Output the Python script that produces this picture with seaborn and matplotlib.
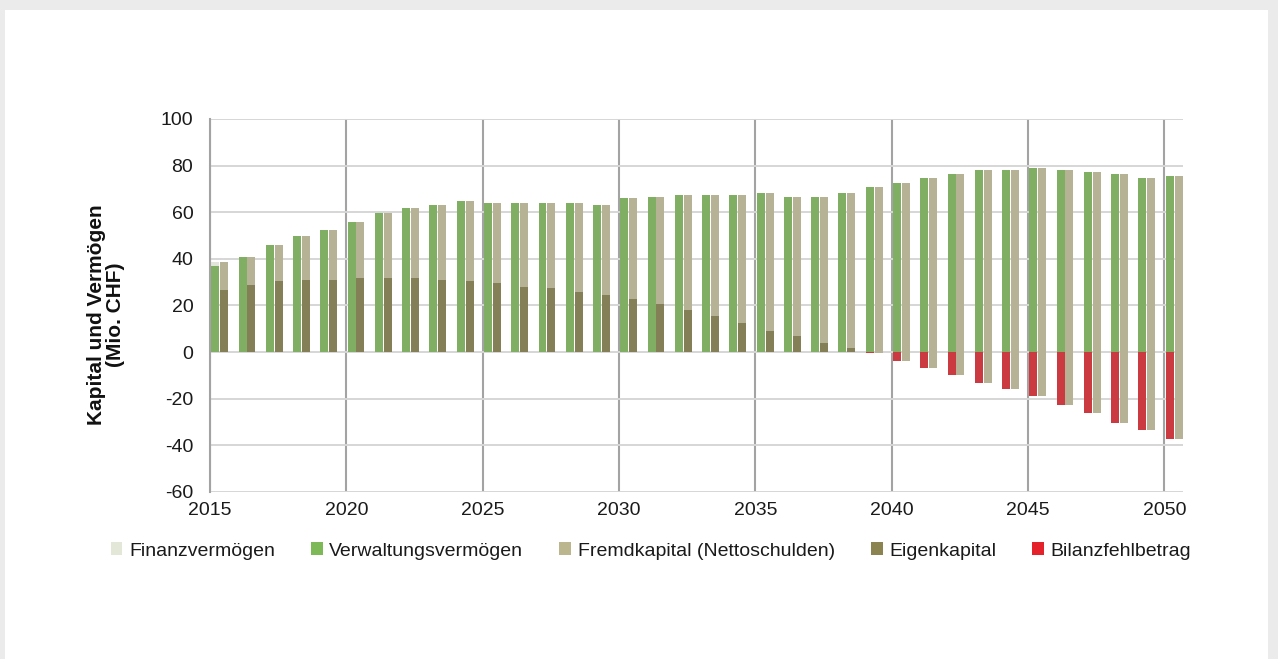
import numpy as np
import pandas as pd
import matplotlib
matplotlib.use("Agg")
import matplotlib.pyplot as plt
from matplotlib.patches import Patch, Rectangle
import seaborn as sns

# ---------------- data (Mio. CHF) ----------------
years = list(range(2015, 2051))
verwaltungsvermoegen = [37.1, 40.6, 45.8, 49.9, 52.5, 55.8, 59.5, 61.8, 63.1, 64.8,
                        63.8, 63.8, 63.8, 63.8, 63.1, 66.1, 66.7, 67.4, 67.4, 67.4,
                        68.1, 66.7, 66.7, 68.2, 70.7, 72.5, 74.8, 76.4, 78.3, 78.0,
                        79.1, 78.3, 77.4, 76.4, 74.8, 75.5]
finanzvermoegen = [1.4] + [0.0] * 35
eigenkapital = [26.6, 28.8, 30.5, 30.9, 30.9, 31.8, 31.8, 31.8, 30.9, 30.5,
                29.6, 27.9, 27.3, 26.0, 24.6, 22.9, 20.7, 17.9, 15.5, 12.7,
                9.0, 6.9, 4.0, 1.6, 0.0, 0.0, 0.0, 0.0, 0.0, 0.0,
                0.0, 0.0, 0.0, 0.0, 0.0, 0.0]
bilanzfehlbetrag = [0.0] * 24 + [-0.5, -3.6, -6.6, -9.6, -13.3, -15.9,
                                 -19.0, -22.6, -26.2, -30.2, -33.6, -37.2]
fremdkapital = [11.9, 11.8, 15.3, 19.0, 21.6, 24.0, 27.7, 30.0, 32.2, 34.3,
                34.2, 35.9, 36.5, 37.8, 38.5, 43.2, 46.0, 49.5, 51.9, 54.7,
                59.1, 59.8, 62.7, 66.6, 71.2, 76.1, 81.4, 86.0, 91.6, 93.9,
                98.1, 100.9, 103.6, 106.6, 108.4, 112.7]

labels = ["Finanzvermögen", "Verwaltungsvermögen", "Fremdkapital (Nettoschulden)",
          "Eigenkapital", "Bilanzfehlbetrag"]
x_ticks = [2015, 2020, 2025, 2030, 2035, 2040, 2045, 2050]
y_ticks = [-60, -40, -20, 0, 20, 40, 60, 80, 100]

# ---------------- styling ----------------
c_fin = "#e2e7d8"
c_verw = "#7dba57"
c_fremd = "#bcb68f"
c_eigen = "#8c8450"
c_fehl = "#e4222b"
PAIR_OFFSET = 0.355

sns.set_theme(style="white")
plt.rcParams["font.family"] = ["Liberation Sans", "DejaVu Sans"]

fig = plt.figure(figsize=(12.78, 6.59), dpi=100)
fig.patch.set_facecolor("#ebebeb")
fig.add_artist(Rectangle((5 / 1278, 0), 1263 / 1278, 1 - 10 / 659,
                         transform=fig.transFigure, facecolor="white",
                         edgecolor="none", zorder=-10))
ax = fig.add_axes([210 / 1278, 1 - 492 / 659, 973 / 1278, 373 / 659])
ax.set_facecolor("none")

yrs = np.array(years, dtype=float)
vv = np.array(verwaltungsvermoegen)
fv = np.array(finanzvermoegen)
ek = np.array(eigenkapital)
bf = np.array(bilanzfehlbetrag)
fk = np.array(fremdkapital)


def layer(left_vals, right_vals, left_color, right_color):
    df = pd.DataFrame({
        "pos": np.concatenate([yrs, yrs]) + PAIR_OFFSET,
        "val": np.concatenate([left_vals, right_vals]),
        "side": ["L"] * len(yrs) + ["R"] * len(yrs),
    })
    sns.barplot(data=df, x="pos", y="val", hue="side", hue_order=["L", "R"],
                palette={"L": left_color, "R": right_color}, native_scale=True,
                width=0.65, gap=0.1, errorbar=None, linewidth=0, legend=False,
                ax=ax)


# back layer: full stacks
layer(vv + fv, ek + fk + bf, c_fin, c_fremd)
# front layer: lower segments
layer(vv, ek, c_verw, c_eigen)
# negative part
layer(bf, bf, c_fehl, c_fremd)

ax.set_xlim(2015, 2050.68)
ax.set_ylim(-60, 100)
ax.set_xticks(x_ticks)
ax.set_xticklabels([str(t) for t in x_ticks])
ax.set_yticks(y_ticks)
ax.set_yticklabels([str(t) for t in y_ticks])
ax.tick_params(axis="both", length=0, labelsize=14, colors="#1a1a1a")
ax.tick_params(axis="y", pad=12)
ax.tick_params(axis="x", pad=7)
ax.set_xlabel("")
ax.set_ylabel("Kapital und Vermögen\n(Mio. CHF)", fontsize=15, fontweight="bold",
              color="#111111", linespacing=1.0)
ax.yaxis.set_label_coords(-0.0874, 0.475)

ax.set_axisbelow(True)
ax.yaxis.grid(True, color="#d6d6d6", linewidth=1.4)
ax.xaxis.grid(True, color="#a3a3a3", linewidth=1.5)
for s in ["top", "right", "bottom"]:
    ax.spines[s].set_visible(False)
ax.spines["left"].set_color("#a3a3a3")
ax.spines["left"].set_linewidth(1.5)

handles = [Patch(facecolor=c, edgecolor="none") for c in
           [c_fin, c_verw, c_fremd, c_eigen, c_fehl]]
fig.legend(handles, labels, loc="center", bbox_to_anchor=(651 / 1278, 1 - 551 / 659),
           ncol=5, frameon=False, fontsize=14, handlelength=0.6, handleheight=0.6,
           handletextpad=0.35, columnspacing=1.85, labelcolor="#1a1a1a")

fig.savefig("out.png", dpi=100, facecolor=fig.get_facecolor())
